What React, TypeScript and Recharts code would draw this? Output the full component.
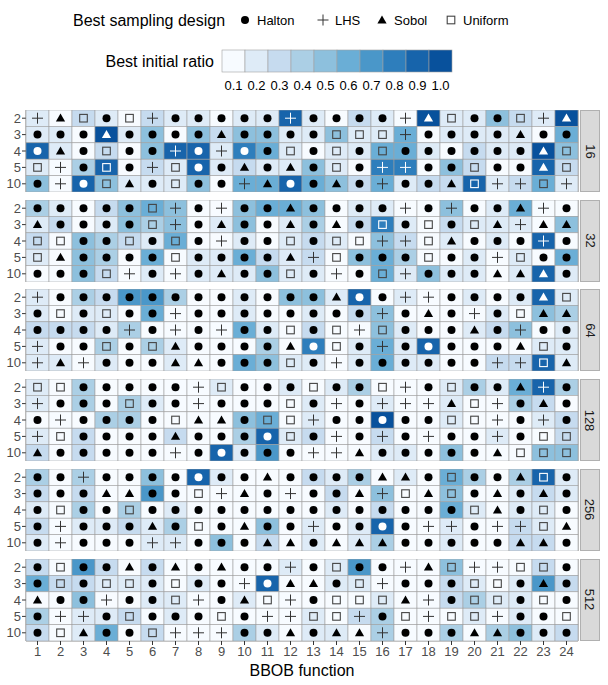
import React from 'react';
import {
  ScatterChart,
  Scatter,
  XAxis,
  YAxis,
  ReferenceLine,
  ReferenceArea,
} from 'recharts';

// BBOB functions on x, problem dimension on y, one panel per budget
const FUNCTIONS = [1, 2, 3, 4, 5, 6, 7, 8, 9, 10, 11, 12, 13, 14, 15, 16, 17, 18, 19, 20, 21, 22, 23, 24];
const DIMS = ['2', '3', '4', '5', '10'];
const BUDGETS = ['16', '32', '64', '128', '256', '512'];
const GROUP_BREAKS = [5.5, 9.5, 14.5, 19.5];

// H = Halton, L = LHS, S = Sobol, U = Uniform
const DESIGN_NAMES: Record<string, string> = { H: 'Halton', L: 'LHS', S: 'Sobol', U: 'Uniform' };
const RATIO_LEVELS = [0.1, 0.2, 0.3, 0.4, 0.5, 0.6, 0.7, 0.8, 0.9, 1.0];
const RATIO_COLORS = ['#f7fbff', '#deebf7', '#c6dbef', '#abcfe5', '#8dc0dd', '#6aaed6', '#4a97c9', '#2e7ebc', '#1764ab', '#08519c'];

const DESIGN_16 = [
  'LSUHULHHHHHLHHHHLSUHHULS',
  'HHHSHHHHSHHHHUUULHHHHSHH',
  'HSHUHHLHLHHUHUHUHHHHHHSU',
  'ULHUHLUHHSHSHUHLLHHUHHSU',
  'HLHUSHUHHLSHHSHLHHSULLUL',
];
const RATIO_16 = [
  [.2, .1, .3, .2, .1, .3, .2, .2, .1, .2, .2, .9, .2, .1, .3, .2, .1, 1, .2, .2, .5, .3, .2, 1],
  [.2, .2, .1, 1, .2, .5, .1, .5, .3, .5, .5, .2, .2, .5, .2, .2, .6, .1, .2, .2, .2, .2, .1, .6],
  [.9, .2, .1, .3, .1, .5, .9, .9, .2, .8, .6, .2, .1, .2, .2, .6, .6, .2, .1, .3, .2, .2, 1, .5],
  [.2, .1, .4, .9, .1, .3, .2, .9, .2, .3, .2, .2, .5, .2, .1, .8, .8, .1, .5, .3, .1, .1, .9, .3],
  [.5, .1, .9, .5, .2, .2, .2, .5, .1, .6, .6, .9, .6, .5, .3, .6, .2, .3, .3, .9, .2, .3, .6, .2],
];

const DESIGN_32 = [
  'HHHHHULHLHHSHHHHLHLHHSLH',
  'SHHHHULHSHHSHSHUHUHUSLSS',
  'UUHHUHUHLHHUHUULLUSHHHLH',
  'USHHHHUHHHHSLUHHHUHHLUHH',
  'HHHULHLHSHHUHLHULHHHSSSH',
];
const RATIO_32 = [
  [.4, .2, .1, .3, .5, .6, .5, .1, .1, .5, .6, .6, .5, .1, .2, .2, .1, .1, .5, .1, .2, .6, .1, .1],
  [.2, .3, .1, .2, .5, .4, .5, .1, .2, .5, .1, .2, .4, .1, .3, .8, .2, .1, .3, .2, .2, .2, .1, .5],
  [.3, .1, .5, .4, .3, .2, .6, .1, .1, .2, .1, .2, .3, .2, .1, .5, .3, .1, .2, .1, .2, .1, .9, .1],
  [.2, .1, .5, .4, .1, .6, .1, .2, .2, .6, .3, .2, .3, .1, .5, .6, .4, .1, .1, .2, .1, .2, .1, .6],
  [.1, .1, .5, .3, .1, .2, .1, .2, .2, .2, .5, .2, .2, .1, .1, .6, .2, .5, .2, .2, .1, .2, .9, .2],
];

const DESIGN_64 = [
  'LHHHHHHHHHHHHSHHLLHHHHSU',
  'HUHUHHLHHHHHHHHLHSHLHUSS',
  'HHHHLHLHLHHUHULUHHHSHLHH',
  'LHHUHUSHHHHSHUHLHHHHHSUH',
  'LSLHHHSSHHHUHLHHHHHHLLUS',
];
const RATIO_64 = [
  [.2, .1, .4, .3, .7, .7, .4, .1, .1, .2, .1, .5, .5, .2, .9, .1, .2, .1, .1, .2, .1, .2, .9, .2],
  [.2, .1, .2, .2, .1, .6, .1, .1, .1, .2, .1, .1, .2, .1, .3, .5, .1, .1, .1, .1, .2, .1, .5, .4],
  [.3, .3, .3, .2, .4, .1, .1, .1, .1, .6, .2, .1, .3, .1, .1, .5, .2, .1, .1, .2, .3, .5, .1, .2],
  [.2, .1, .1, .4, .1, .4, .2, .1, .1, .1, .4, .1, .8, .1, .2, .6, .2, .9, .1, .1, .1, .1, .2, .2],
  [.2, .2, .1, .2, .1, .1, .2, .1, .1, .6, .5, .2, .2, .1, .2, .6, .2, .2, .1, .1, .3, .3, .9, .2],
];

const DESIGN_128 = [
  'UUHHHHHLUHHHUHHULHUHHSLH',
  'LHHHUHHLHHHUHLHLLLSULHSH',
  'HLHHHHUSSHUULHHHHHUULHLH',
  'LUHHHHSHHHHUHLHLHLHHLHUU',
  'SHHHHHLHHHHHLLSHHHHHSUUU',
];
const RATIO_128 = [
  [.2, .1, .4, .1, .1, .1, .1, .1, .2, .1, .1, .2, .1, .2, .4, .1, .1, .1, .2, .4, .2, .6, .9, .4],
  [.2, .1, .4, .1, .4, .2, .1, .1, .1, .1, .1, .1, .2, .1, .1, .2, .1, .1, .2, .1, .1, .4, .3, .1],
  [.1, .1, .1, .4, .4, .1, .1, .1, .1, .5, .6, .1, .2, .1, .1, 1, .1, .1, .2, .1, .1, .1, .2, .3],
  [.2, .1, .3, .1, .1, .1, .3, .1, .1, .4, .9, .2, .3, .1, .1, .3, .1, .1, .1, .1, .2, .1, .1, .3],
  [.3, .1, .3, .1, .1, .1, .1, .1, .9, .2, .7, .1, .1, .1, .1, .2, .2, .1, .5, .1, .1, .1, .5, .5],
];

const DESIGN_256 = [
  'HHLHHHHHHHSHHHHSSHUHHSUH',
  'HHHSSHHULSHLHHSLUSUHSHSH',
  'HUHHUHHHHHHHHHHHHHHUSHUH',
  'HLHHHSHUHSHHLHHHHLLHLLUS',
  'HLHHHLLHHHSSHSSSHHHHHSSH',
];
const RATIO_256 = [
  [.4, .1, .4, .1, .1, .5, .1, .9, .2, .1, .1, .1, .3, .2, .4, .1, .2, .1, .6, .4, .1, .4, .9, .2],
  [.3, .1, .3, .1, .1, .7, .1, .1, .1, .1, .1, .1, .1, .3, .1, .5, .1, .1, .5, .1, .1, .2, .3, .2],
  [.2, .1, .4, .1, .4, .1, .2, .1, .1, .1, .1, .1, .1, .2, .1, .3, .1, .1, .6, .2, .1, .2, .2, .1],
  [.3, .1, .2, .2, .3, .2, .4, .1, .1, .1, .5, .1, .2, .1, .2, .9, .1, .1, .2, .1, .1, .3, .2, .1],
  [.2, .1, .1, .1, .1, .2, .2, .1, .5, .1, .3, .1, .2, .1, .2, .4, .1, .1, .2, .1, .1, .3, .3, .1],
];

const DESIGN_512 = [
  'HUHHSHSHSHHLHUHHLSULLUUH',
  'HUHUUHUHHLHSSHULHHHUUHSH',
  'SHHLHHULHSULHUUUSLHUUHUH',
  'HLLHUHHHUHLLUULHULUULHHU',
  'HUSHHULLLHHSHSSLHHHSSHHH',
];
const RATIO_512 = [
  [.3, .1, .7, .3, .1, .3, .1, .1, .1, .1, .1, .2, .1, .2, .7, .1, .1, .1, .5, .1, .1, .1, .3, .1],
  [.6, .3, .3, .2, .2, .2, .1, .2, .1, .1, .9, .1, .1, .2, .2, .1, .1, .1, .3, .2, .1, .2, .7, .3],
  [.1, .1, .5, .1, .1, .2, .2, .1, .1, .2, .1, .1, .1, .1, .1, .2, .1, .1, .3, .4, .2, .2, .1, .1],
  [.4, .1, .2, .2, .3, .1, .2, .1, .1, .1, .1, .1, .2, .1, .3, .4, .1, .1, .1, .2, .1, .2, .1, .1],
  [.3, .1, .2, .6, .1, .3, .1, .1, .1, .4, .2, .1, .2, .2, .1, .4, .1, .1, .4, .1, .4, .5, .2, .3],
];

const PANELS = [
  { budget: BUDGETS[0], design: DESIGN_16, ratio: RATIO_16 },
  { budget: BUDGETS[1], design: DESIGN_32, ratio: RATIO_32 },
  { budget: BUDGETS[2], design: DESIGN_64, ratio: RATIO_64 },
  { budget: BUDGETS[3], design: DESIGN_128, ratio: RATIO_128 },
  { budget: BUDGETS[4], design: DESIGN_256, ratio: RATIO_256 },
  { budget: BUDGETS[5], design: DESIGN_512, ratio: RATIO_512 },
];

const FONT = '"Liberation Sans", Arial, Helvetica, sans-serif';
const CHART_W = 600;
const PANEL_H = 82;
const PANEL_TOP = 110;
const PANEL_STEP = 89.7;
const CELL_W = 23;
const CELL_H = PANEL_H / 5;

const fillFor = (r: number) => RATIO_COLORS[Math.max(0, Math.min(9, Math.round(r * 10) - 1))];

const Mark = ({ code, x, y, ink }: { code: string; x: number; y: number; ink: string }) => {
  if (code === 'H') return <circle cx={x} cy={y} r={4} fill={ink} />;
  if (code === 'S')
    return <polygon points={`${x},${y - 4.6} ${x + 4.6},${y + 3.4} ${x - 4.6},${y + 3.4}`} fill={ink} />;
  if (code === 'L')
    return (
      <g stroke={ink === '#fff' ? '#fff' : '#333'} strokeWidth={1}>
        <line x1={x - 5.5} x2={x + 5.5} y1={y} y2={y} />
        <line x1={x} x2={x} y1={y - 5.5} y2={y + 5.5} />
      </g>
    );
  return (
    <rect x={x - 3.8} y={y - 3.8} width={7.6} height={7.6} fill="none" stroke={ink === '#fff' ? '#fff' : '#444'} strokeWidth={1.1} />
  );
};

const Tile = (props: any) => {
  const { cx, cy, payload } = props;
  if (cx == null || cy == null) return null;
  const ink = payload.ratio >= 0.8 ? '#fff' : '#000';
  return (
    <g>
      <rect
        x={cx - CELL_W / 2}
        y={cy - CELL_H / 2}
        width={CELL_W}
        height={CELL_H}
        fill={fillFor(payload.ratio)}
        stroke="#a0a0a0"
        strokeWidth={0.6}
      />
      <Mark code={payload.design} x={cx} y={cy} ink={ink} />
    </g>
  );
};

const Panel = ({ index }: { index: number }) => {
  const p = PANELS[index];
  const last = index === PANELS.length - 1;
  const data = p.design.flatMap((row, r) =>
    FUNCTIONS.map((fn, c) => ({ fn, dim: r, design: row[c], ratio: p.ratio[r][c] }))
  );
  const h = PANEL_H + (last ? 40 : 0);
  const top = PANEL_TOP + index * PANEL_STEP;
  return (
    <div style={{ position: 'absolute', left: 0, top, width: CHART_W, height: h }}>
      <ScatterChart width={CHART_W} height={h} margin={{ top: 0, right: 22, bottom: 0, left: 0 }}>
        <XAxis
          type="number"
          dataKey="fn"
          domain={[0.5, 24.5]}
          ticks={FUNCTIONS}
          interval={0}
          hide={!last}
          height={40}
          axisLine={false}
          tickSize={4}
          tickMargin={2}
          tickLine={{ stroke: '#333' }}
          tick={{ fill: '#4d4d4d', fontSize: 13, fontFamily: FONT }}
          label={{ value: 'BBOB function', position: 'insideBottom', offset: 5, fill: '#000', fontSize: 16, fontFamily: FONT }}
        />
        <YAxis
          type="number"
          dataKey="dim"
          domain={[-0.5, 4.5]}
          reversed
          ticks={[0, 1, 2, 3, 4]}
          interval={0}
          allowDataOverflow
          width={26}
          axisLine={false}
          tickSize={4}
          tickMargin={1}
          tickLine={{ stroke: '#333' }}
          tickFormatter={(v: number) => DIMS[v]}
          tick={{ fill: '#4d4d4d', fontSize: 13, fontFamily: FONT }}
        />
        <Scatter data={data} shape={Tile} isAnimationActive={false} />
        {GROUP_BREAKS.map((b) => (
          <ReferenceLine key={b} x={b} stroke="#808080" strokeWidth={1.2} />
        ))}
        <ReferenceArea x1={0.5} x2={24.5} y1={-0.5} y2={4.5} fill="none" stroke="#8a8a8a" strokeWidth={1} />
      </ScatterChart>
      <div
        style={{
          position: 'absolute',
          left: 580,
          top: 0,
          width: 20,
          height: PANEL_H,
          boxSizing: 'border-box',
          background: '#d9d9d9',
          border: '1px solid #b0b0b0',
          display: 'flex',
          alignItems: 'center',
          justifyContent: 'center',
        }}
      >
        <span style={{ transform: 'rotate(90deg)', fontFamily: FONT, fontSize: 13, color: '#1a1a1a' }}>{p.budget}</span>
      </div>
    </div>
  );
};

const Legends = () => {
  const keys = [
    { code: 'H', sx: 245 },
    { code: 'L', sx: 323 },
    { code: 'S', sx: 382 },
    { code: 'U', sx: 451 },
  ];
  return (
    <svg width={608} height={100} style={{ position: 'absolute', left: 0, top: 0 }} fontFamily={FONT}>
      <text x={73} y={25.5} fontSize={16} fill="#000">
        Best sampling design
      </text>
      {keys.map((k) => (
        <g key={k.code}>
          <Mark code={k.code} x={k.sx} y={20} ink="#000" />
          <text x={k.sx + 12} y={25} fontSize={13} fill="#000">
            {DESIGN_NAMES[k.code]}
          </text>
        </g>
      ))}
      <text x={214} y={67} fontSize={16} fill="#000" textAnchor="end">
        Best initial ratio
      </text>
      {RATIO_LEVELS.map((lv, i) => (
        <g key={lv}>
          <rect x={222 + i * 23} y={50} width={23} height={22} fill={RATIO_COLORS[i]} stroke="#a0a0a0" strokeWidth={0.6} />
          <text x={233.5 + i * 23} y={90} fontSize={13} fill="#000" textAnchor="middle">
            {lv.toFixed(1)}
          </text>
        </g>
      ))}
    </svg>
  );
};

export default function App() {
  return (
    <div style={{ position: 'absolute', left: 0, top: 0, width: 608, height: 685, background: '#fff', fontFamily: FONT }}>
      <Legends />
      {PANELS.map((_, i) => (
        <Panel key={i} index={i} />
      ))}
    </div>
  );
}
